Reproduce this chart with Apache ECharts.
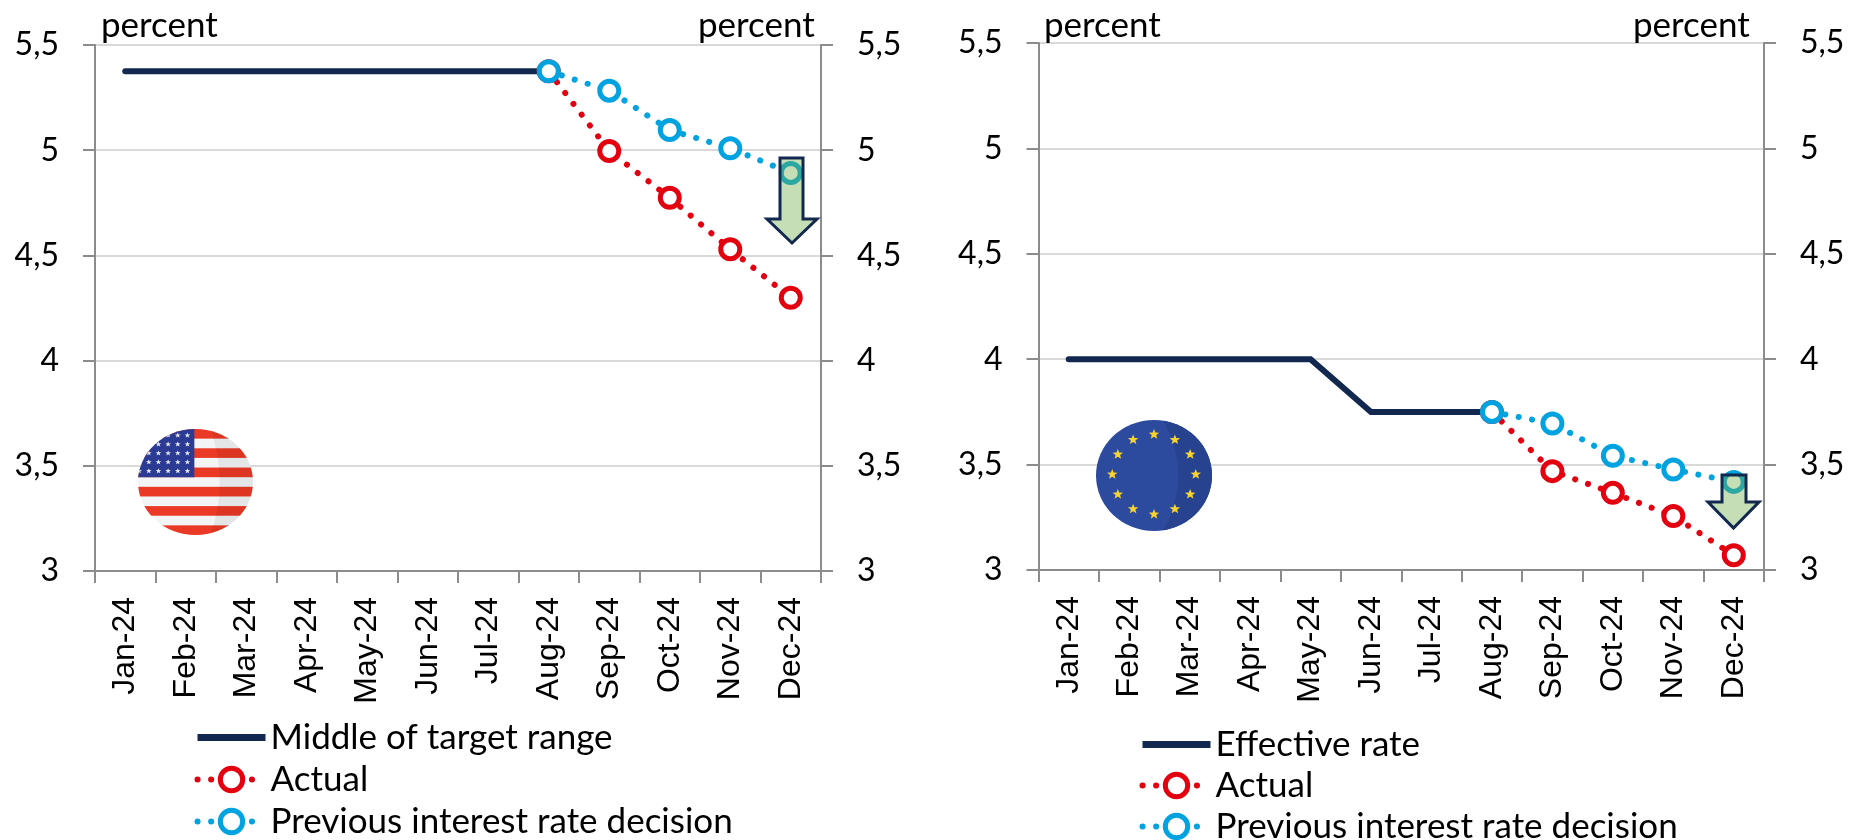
<!DOCTYPE html>
<html>
<head>
<meta charset="utf-8">
<style>
  html, body { margin: 0; padding: 0; background: #fff; }
  #main { width: 1849px; height: 840px; }
</style>
<script src="https://cdn.jsdelivr.net/npm/echarts@6/dist/echarts.min.js"></script>
</head>
<body>
<div id="main"></div>
<script>
const months = ['Jan-24', 'Feb-24', 'Mar-24', 'Apr-24', 'May-24', 'Jun-24', 'Jul-24', 'Aug-24', 'Sep-24', 'Oct-24', 'Nov-24', 'Dec-24']

const usMiddle = [5.375, 5.375, 5.375, 5.375, 5.375, 5.375, 5.375, 5.375, null, null, null, null]
const usActual = [null, null, null, null, null, null, null, 5.375, 4.996, 4.774, 4.529, 4.299]
const usPrevious = [null, null, null, null, null, null, null, 5.375, 5.283, 5.096, 5.009, 4.892]

const euEffective = [4, 4, 4, 4, 4, 3.75, 3.75, 3.75, null, null, null, null]
const euActual = [null, null, null, null, null, null, null, 3.75, 3.469, 3.366, 3.256, 3.07]
const euPrevious = [null, null, null, null, null, null, null, 3.75, 3.695, 3.542, 3.477, 3.418]

const font = 'Lato'
const navy = '#12284F'
const red = '#E3000F'
const blue = '#00A3E0'

function star (cx, cy, r, fill) {
  let pts = []
  for (let i = 0; i < 10; i++) {
    let a = -Math.PI / 2 + i * Math.PI / 5
    let q = i % 2 ? r * 0.42 : r
    pts.push((cx + q * Math.cos(a)).toFixed(2) + ',' + (cy + q * Math.sin(a)).toFixed(2))
  }
  return `<polygon points="${pts.join(' ')}" fill="${fill}"/>`
}

function svgUri (inner) {
  let svg = `<svg xmlns="http://www.w3.org/2000/svg" viewBox="0 0 100 100" width="232" height="212" preserveAspectRatio="none">` +
    `<defs><clipPath id="c"><circle cx="50" cy="50" r="50"/></clipPath></defs><g clip-path="url(#c)">${inner}</g></svg>`
  return 'data:image/svg+xml;charset=utf-8,' + encodeURIComponent(svg)
}

function usFlag () {
  let s = '<rect width="100" height="100" fill="#F2F4F6"/>'
  for (let i = 0; i < 11; i += 2) {
    s += `<rect x="0" y="${i * 100 / 11}" width="100" height="${100 / 11}" fill="#EA3A25"/>`
  }
  s += '<rect width="49" height="45.5" fill="#2B3B93"/>'
  for (let row = 0; row < 5; row++) {
    for (let col = 0; col < 6; col++) {
      s += star(43 - col * 8.4, 6 + row * 8.4, 2.6, '#E4E8F2')
    }
  }
  s += '<path d="M63 0 Q79 50 63 100 L100 100 L100 0 Z" fill="#000" fill-opacity="0.06"/>'
  return svgUri(s)
}

function euFlag () {
  let s = '<rect width="100" height="100" fill="#2C4A9E"/>'
  s += '<path d="M58 0 Q84 50 58 100 L100 100 L100 0 Z" fill="#27428F"/>'
  for (let i = 0; i < 12; i++) {
    let a = i * Math.PI / 6
    s += star(50 + 36 * Math.sin(a), 49 - 36 * Math.cos(a), 4.8, '#F8D22E')
  }
  return svgUri(s)
}

function yAxisOf (gridIndex, position, showGrid) {
  return {
    type: 'value',
    gridIndex: gridIndex,
    position: position,
    min: 3,
    max: 5.5,
    interval: 0.5,
    axisLine: { show: true, lineStyle: { color: '#8C8C8C', width: 2 } },
    axisTick: { show: true, length: 12, lineStyle: { color: '#8C8C8C', width: 2 } },
    splitLine: { show: showGrid, lineStyle: { color: '#D9D9D9', width: 2 } },
    axisLabel: {
      margin: 36,
      fontFamily: font,
      fontSize: 32,
      color: '#000',
      formatter: v => String(v).replace('.', ',')
    }
  }
}

function xAxisOf (gridIndex) {
  return {
    type: 'category',
    gridIndex: gridIndex,
    data: months,
    boundaryGap: true,
    axisLine: { lineStyle: { color: '#8C8C8C', width: 2 } },
    axisTick: { show: true, length: 12, alignWithLabel: false, lineStyle: { color: '#8C8C8C', width: 2 } },
    axisLabel: { interval: 0, rotate: 90, margin: 26, fontFamily: 'Liberation Sans', fontSize: 32, color: '#000' }
  }
}

function solid (name, data, axis) {
  return {
    name: name,
    type: 'line',
    xAxisIndex: axis,
    yAxisIndex: axis * 2,
    data: data,
    symbol: 'none',
    lineStyle: { color: navy, width: 6, cap: 'round', join: 'miter' },
    itemStyle: { color: navy },
    z: 3
  }
}

function dotted (name, data, axis, color, z) {
  return {
    name: name,
    type: 'line',
    xAxisIndex: axis,
    yAxisIndex: axis * 2,
    data: data,
    symbol: 'circle',
    symbolSize: 19,
    showAllSymbol: true,
    lineStyle: { color: color, width: 6, type: [0.1, 13.5], cap: 'round' },
    itemStyle: { color: '#fff', borderColor: color, borderWidth: 5 },
    z: z
  }
}

function legendOf (first, left, top, gap) {
  return {
    orient: 'vertical',
    left: left,
    top: top,
    height: 160,
    padding: 0,
    itemWidth: 68,
    itemHeight: 28,
    itemGap: gap,
    data: [
      { name: first, itemStyle: { opacity: 0 }, lineStyle: { width: 7, cap: 'butt' } },
      { name: 'Actual', itemStyle: { borderWidth: 5 }, lineStyle: { width: 6 } },
      { name: 'Previous interest rate decision', itemStyle: { borderWidth: 5 }, lineStyle: { width: 6 } }
    ],
    selectedMode: false,
    textStyle: { fontFamily: font, fontSize: 35, color: '#000' }
  }
}

function label (text, x, y) {
  return {
    type: 'text',
    x: x,
    y: y,
    z: 10,
    style: { text: text, fontFamily: font, fontSize: 35, fill: '#000', textVerticalAlign: 'middle' }
  }
}

function arrow (l, r, hl, hr, top, sh, tip) {
  let mid = (hl + hr) / 2
  return {
    type: 'polygon',
    z: 20,
    shape: { points: [[l, top], [r, top], [r, sh], [hr, sh], [mid, tip], [hl, sh], [l, sh]] },
    style: { fill: 'rgba(112,173,71,0.4)', stroke: navy, lineWidth: 3 }
  }
}

function flag (uri, x, y, w, h) {
  return { type: 'image', z: 1, style: { image: uri, x: x, y: y, width: w, height: h } }
}

const chart = echarts.init(document.getElementById('main'))
chart.setOption({
  animation: false,
  backgroundColor: '#fff',
  grid: [
    { left: 95, top: 45, width: 726, height: 526 },
    { left: 1038.5, top: 43, width: 725.5, height: 527 }
  ],
  xAxis: [xAxisOf(0), xAxisOf(1)],
  yAxis: [yAxisOf(0, 'left', true), yAxisOf(0, 'right', false), yAxisOf(1, 'left', true), yAxisOf(1, 'right', false)],
  legend: [
    legendOf('Middle of target range', 194, 720, 7),
    legendOf('Effective rate', 1139, 727, 6)
  ],
  series: [
    solid('Middle of target range', usMiddle, 0),
    dotted('Actual', usActual, 0, red, 4),
    dotted('Previous interest rate decision', usPrevious, 0, blue, 5),
    solid('Effective rate', euEffective, 1),
    dotted('Actual', euActual, 1, red, 4),
    dotted('Previous interest rate decision', euPrevious, 1, blue, 5)
  ],
  graphic: [
    label('percent', 101, 26),
    label('percent', 698, 26),
    label('percent', 1044, 26),
    label('percent', 1633, 26),
    flag(usFlag(), 138, 429, 115, 106),
    flag(euFlag(), 1096, 420, 116, 111),
    arrow(780, 803, 767, 817, 158, 219, 243),
    arrow(1722, 1746, 1708, 1759, 475, 502, 528)
  ]
})
</script>
</body>
</html>
